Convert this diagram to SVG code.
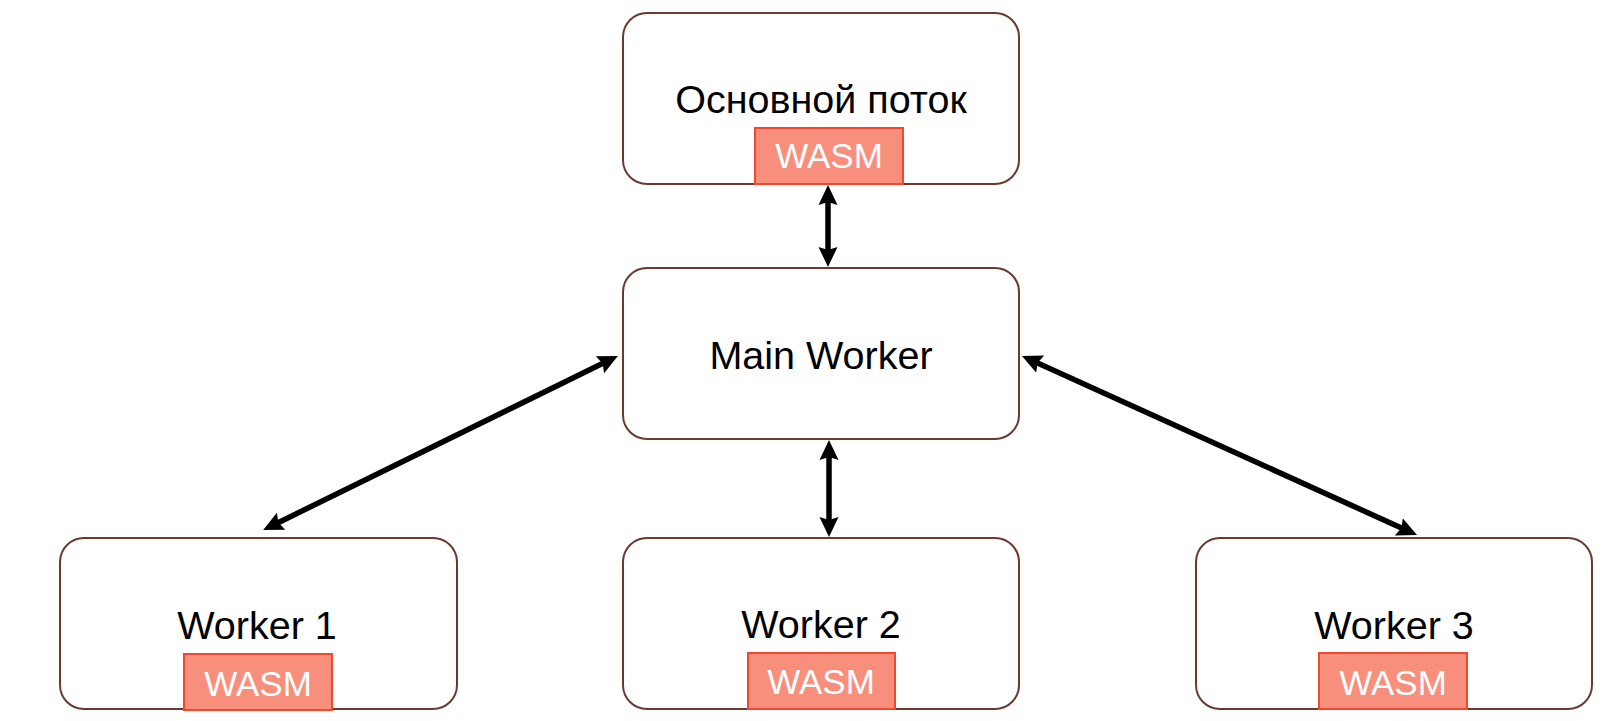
<svg xmlns="http://www.w3.org/2000/svg" width="1620" height="721" viewBox="0 0 1620 721">
<style>
.node{fill:#fff;stroke:#6B3A2F;stroke-width:2}
.wasm{fill:#F88F7D;stroke:#F4472B;stroke-width:2}
.lbl{font-family:"Liberation Sans",Arial,sans-serif;font-size:39.5px;fill:#000;text-anchor:middle}
.wt{font-family:"Liberation Sans",Arial,sans-serif;font-size:35px;fill:#fff;text-anchor:middle}
.edge{stroke:#000;stroke-width:5.5;fill:none;marker-start:url(#ah);marker-end:url(#ah)}
</style>
<defs>
<marker id="ah" viewBox="0 0 20 20" refX="9" refY="10" markerWidth="20" markerHeight="20" markerUnits="userSpaceOnUse" orient="auto-start-reverse">
<path d="M0,0.5 L20,10 L0,19.5 L3,10 z" fill="#000"/>
</marker>
</defs>
<rect width="1620" height="721" fill="#fff"/>
<g id="main-thread">
<rect class="node" x="623" y="13" width="396" height="171" rx="24"/>
<text class="lbl" x="821" y="113">Основной поток</text>
<rect class="wasm" x="755" y="128" width="148" height="56"/>
<text class="wt" x="829" y="168">WASM</text>
</g>
<g id="main-worker">
<rect class="node" x="623" y="268" width="396" height="171" rx="24"/>
<text class="lbl" x="821" y="369">Main Worker</text>
</g>
<g id="worker1">
<rect class="node" x="60" y="538" width="397" height="171" rx="24"/>
<text class="lbl" x="257" y="639">Worker 1</text>
<rect class="wasm" x="184" y="654" width="148" height="56"/>
<text class="wt" x="258" y="696">WASM</text>
</g>
<g id="worker2">
<rect class="node" x="623" y="538" width="396" height="171" rx="24"/>
<text class="lbl" x="821" y="638">Worker 2</text>
<rect class="wasm" x="748" y="653" width="147" height="56"/>
<text class="wt" x="821" y="694">WASM</text>
</g>
<g id="worker3">
<rect class="node" x="1196" y="538" width="396" height="171" rx="24"/>
<text class="lbl" x="1394" y="639">Worker 3</text>
<rect class="wasm" x="1319" y="653" width="148" height="56"/>
<text class="wt" x="1393" y="695">WASM</text>
</g>
<g id="connectors">
<line class="edge" x1="828" y1="196" x2="828" y2="256"/>
<line class="edge" x1="829" y1="451" x2="829" y2="526"/>
<line class="edge" x1="273" y1="525.2" x2="608" y2="360.8"/>
<line class="edge" x1="1032" y1="360.5" x2="1407" y2="530.5"/>
</g>
</svg>
